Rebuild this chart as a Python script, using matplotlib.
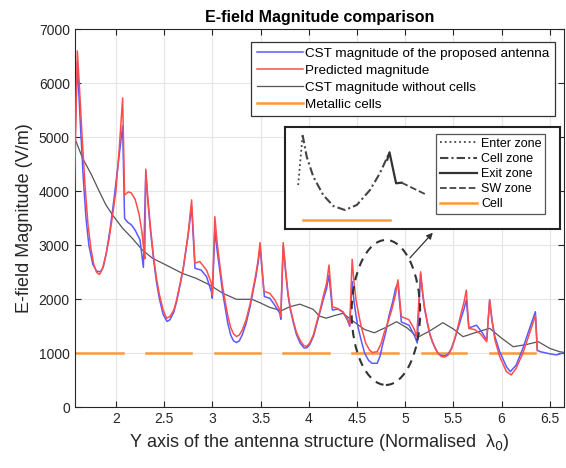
import matplotlib
matplotlib.use("Agg")
import matplotlib.pyplot as plt
from matplotlib.patches import Ellipse

plt.rcParams['font.family'] = ['Liberation Sans', 'DejaVu Sans']

# ---------------------------
# data
# ---------------------------
blue_x = [1.57, 1.60, 1.63, 1.66, 1.69, 1.72, 1.76, 1.80, 1.84, 1.87, 1.90, 1.94, 1.98, 2.02, 2.07,
          2.09, 2.12, 2.16, 2.20, 2.25, 2.285,
          2.31, 2.33, 2.36, 2.39, 2.42, 2.45, 2.49, 2.53, 2.56, 2.60, 2.63, 2.67, 2.70, 2.73, 2.75, 2.785,
          2.82, 2.885, 2.94, 2.99, 3.00,
          3.026, 3.05, 3.08, 3.105, 3.13, 3.16, 3.19, 3.22, 3.25, 3.28, 3.31, 3.35, 3.39, 3.42, 3.45, 3.475, 3.495,
          3.54, 3.596, 3.648, 3.70, 3.71,
          3.735, 3.76, 3.785, 3.81, 3.84, 3.87, 3.91, 3.95, 3.98, 4.01, 4.05, 4.08, 4.12, 4.15, 4.185, 4.21,
          4.245, 4.30, 4.355, 4.40, 4.425,
          4.45, 4.47, 4.49, 4.51, 4.545, 4.58, 4.62, 4.655, 4.71, 4.74, 4.76, 4.80, 4.83, 4.87, 4.90, 4.925,
          4.96, 5.04, 5.10, 5.125,
          5.16, 5.18, 5.20, 5.23, 5.254, 5.28, 5.306, 5.34, 5.375, 5.41, 5.444, 5.48, 5.51, 5.545, 5.58, 5.61, 5.634,
          5.66, 5.74, 5.80, 5.845,
          5.876, 5.90, 5.93, 5.98, 6.05, 6.09, 6.15, 6.22, 6.29, 6.35,
          6.37, 6.40, 6.50, 6.57, 6.64, 6.67]
blue_y = [4640, 6400, 5300, 4300, 3500, 3000, 2650, 2520, 2510, 2600, 2850, 3300, 3850, 4450, 5210,
          3500, 3430, 3380, 3280, 3100, 2590,
          4360, 3850, 3250, 2750, 2330, 2020, 1720, 1590, 1620, 1760, 1960, 2300, 2580, 2950, 3200, 3720,
          2575, 2540, 2420, 2140, 2020,
          3280, 2900, 2500, 2150, 1880, 1560, 1340, 1230, 1200, 1230, 1340, 1550, 1850, 2120, 2400, 2680, 2970,
          2050, 2020, 1890, 1740, 1630,
          2990, 2500, 2080, 1800, 1570, 1360, 1190, 1100, 1100, 1160, 1320, 1520, 1780, 1990, 2200, 2450,
          1800, 1820, 1760, 1620, 1500,
          2330, 1950, 1700, 1490, 1230, 1000, 870, 815, 815, 950, 1120, 1400, 1680, 1950, 2200, 2300,
          1580, 1520, 1310, 1190,
          2470, 2120, 1830, 1560, 1360, 1220, 1110, 1000, 960, 955, 985, 1090, 1240, 1440, 1650, 1820, 1990,
          1470, 1520, 1380, 1240,
          1990, 1620, 1310, 1030, 750, 660, 780, 1090, 1460, 1770,
          1060, 1030, 990, 970, 1010, 1000]

red_x = [1.57, 1.60, 1.62, 1.65, 1.68, 1.71, 1.74, 1.77, 1.80, 1.83, 1.86, 1.90, 1.93, 1.966, 2.00, 2.035, 2.07,
         2.09, 2.13, 2.16, 2.20, 2.24, 2.27, 2.29, 2.30,
         2.31, 2.33, 2.36, 2.39, 2.42, 2.45, 2.49, 2.525, 2.56, 2.60, 2.63, 2.67, 2.70, 2.73, 2.75, 2.785,
         2.82, 2.87, 2.94, 2.99, 3.00,
         3.026, 3.05, 3.08, 3.105, 3.13, 3.16, 3.19, 3.22, 3.25, 3.28, 3.31, 3.35, 3.39, 3.42, 3.45, 3.475, 3.495,
         3.535, 3.596, 3.648, 3.70, 3.71,
         3.735, 3.76, 3.785, 3.81, 3.84, 3.87, 3.91, 3.95, 3.98, 4.01, 4.05, 4.08, 4.12, 4.15, 4.185, 4.21,
         4.245, 4.30, 4.355, 4.40, 4.425,
         4.45, 4.47, 4.49, 4.52, 4.545, 4.59, 4.63, 4.66, 4.71, 4.75, 4.78, 4.82, 4.86, 4.90, 4.925,
         4.96, 5.04, 5.09, 5.12,
         5.16, 5.18, 5.20, 5.23, 5.254, 5.28, 5.306, 5.34, 5.375, 5.41, 5.444, 5.48, 5.51, 5.545, 5.58, 5.61, 5.634,
         5.66, 5.72, 5.78, 5.845,
         5.876, 5.90, 5.93, 5.98, 6.05, 6.10, 6.15, 6.22, 6.29, 6.35,
         6.37]
red_y = [3990, 6600, 6000, 5000, 4100, 3400, 2950, 2650, 2500, 2460, 2560, 2850, 3130, 3560, 4000, 4800, 5730,
         3930, 3990, 3970, 3850, 3580, 3250, 2900, 2750,
         4410, 3900, 3300, 2800, 2400, 2100, 1800, 1650, 1680, 1800, 1990, 2330, 2600, 2980, 3220, 3840,
         2670, 2700, 2540, 2300, 2080,
         3530, 3050, 2600, 2250, 1990, 1700, 1480, 1360, 1310, 1340, 1430, 1620, 1900, 2170, 2450, 2730, 3050,
         2150, 2110, 1990, 1800, 1680,
         3050, 2550, 2110, 1830, 1600, 1400, 1240, 1140, 1130, 1190, 1350, 1560, 1820, 2050, 2300, 2635,
         1860, 1830, 1770, 1650, 1520,
         2740, 2300, 1990, 1700, 1490, 1190, 1060, 1015, 1030, 1180, 1370, 1570, 1800, 2090, 2360,
         1680, 1620, 1460, 1310,
         2510, 2150, 1860, 1580, 1370, 1230, 1120, 1000, 940, 930, 965, 1080, 1250, 1480, 1740, 1950, 2170,
         1460, 1440, 1360, 1215,
         1990, 1600, 1250, 940, 660, 600, 720, 1000, 1370, 1700,
         1050]

gray_x = [1.57, 1.655, 1.74, 1.83, 1.896, 1.966, 2.07, 2.17, 2.276, 2.38, 2.52, 2.69, 2.83, 2.974, 3.11,
          3.25, 3.41, 3.49, 3.596, 3.717, 3.80, 3.907, 4.045, 4.11, 4.18, 4.27, 4.355, 4.49, 4.58, 4.68,
          4.80, 4.91, 5.02, 5.13, 5.26, 5.39, 5.50, 5.60, 5.74, 5.876, 6.00, 6.12, 6.25, 6.38, 6.50, 6.60, 6.67]
gray_y = [5000, 4610, 4330, 3990, 3750, 3560, 3315, 3130, 2910, 2760, 2635, 2480, 2390, 2265, 2110,
          2000, 2000, 1940, 1850, 1790, 1860, 1910, 1815, 1690, 1650, 1700, 1740, 1555, 1440, 1380,
          1480, 1585, 1470, 1296, 1420, 1567, 1450, 1308, 1390, 1463, 1280, 1122, 1160, 1215, 1090, 1030, 1010]

cell_start = [1.59, 2.31, 3.03, 3.73, 4.45, 5.17, 5.88]
cell_end = [2.07, 2.78, 3.49, 4.21, 4.93, 5.63, 6.35]
cell_level = 1000

# inset sketch (axes fraction units)
enter_x = [0.048, 0.064]
enter_y = [0.431, 0.922]
cellz_x = [0.064, 0.079, 0.103, 0.139, 0.176, 0.218, 0.261, 0.309, 0.345, 0.380]
cellz_y = [0.922, 0.709, 0.513, 0.333, 0.225, 0.186, 0.235, 0.382, 0.546, 0.752]
exit_x = [0.372, 0.380, 0.404, 0.424]
exit_y = [0.680, 0.752, 0.448, 0.454]
sw_x = [0.424, 0.509]
sw_y = [0.454, 0.343]
inset_cell_x = [0.064, 0.382]
inset_cell_y = [0.088, 0.088]

legend_labels = ['CST magnitude of the proposed antenna', 'Predicted magnitude',
                 'CST magnitude without cells', 'Metallic cells']
inset_labels = ['Enter zone', 'Cell zone', 'Exit zone', 'SW zone', 'Cell']

BLUE = '#5a5aff'
RED = '#ff4d4d'
GRAY = '#555555'
ORANGE = '#ff9933'
INK = '#262626'

fig = plt.figure(figsize=(5.66, 4.68), dpi=100)
ax = fig.add_axes([0.132, 0.1297, 0.865, 0.8077])

ax.plot(blue_x, blue_y, color=BLUE, lw=1.1, label=legend_labels[0], zorder=3)
ax.plot(red_x, red_y, color=RED, lw=1.1, label=legend_labels[1], zorder=4)
ax.plot(gray_x, gray_y, color=GRAY, lw=0.9, label=legend_labels[2], zorder=2)
for i, (s, e) in enumerate(zip(cell_start, cell_end)):
    ax.plot([s, e], [cell_level, cell_level], color=ORANGE, lw=1.8,
            label=legend_labels[3] if i == 0 else None, zorder=2)

ax.set_xlim(1.573, 6.65)
ax.set_ylim(0, 7000)
ax.set_xticks([2, 2.5, 3, 3.5, 4, 4.5, 5, 5.5, 6, 6.5])
ax.set_xticklabels(['2', '2.5', '3', '3.5', '4', '4.5', '5', '5.5', '6', '6.5'])
ax.set_yticks(range(0, 7001, 1000))
ax.grid(True, color='#e6e6e6', lw=0.8)
ax.set_axisbelow(True)
ax.tick_params(direction='in', length=4, width=0.8, colors=INK, labelsize=10, top=True, right=True,
               labeltop=False, labelright=False)
for sp in ax.spines.values():
    sp.set_color(INK)
    sp.set_linewidth(0.8)

ax.set_title('E-field Magnitude comparison', fontsize=11.5, fontweight='bold', pad=5)
ax.set_ylabel('E-field Magnitude (V/m)', fontsize=13, color=INK)
ax.set_xlabel('Y axis of the antenna structure (Normalised  λ$_0$)', fontsize=13, color=INK)

leg = ax.legend(loc='upper right', bbox_to_anchor=(0.981, 0.966), borderaxespad=0, fontsize=9.7,
                frameon=True, fancybox=False, framealpha=1, edgecolor='#333333',
                handlelength=3.4, handletextpad=0.2, labelspacing=0.33, borderpad=0.4)
leg.get_frame().set_linewidth(0.9)

# dashed ellipse around one cell + arrow to the zoom sketch
ax.add_patch(Ellipse((4.80, 1756), 0.71, 2685, fill=False, ls=(0, (4, 3)), lw=1.5, ec='#333333', zorder=5))
ax.annotate('', xy=(5.306, 3271), xytext=(5.03, 2728),
            arrowprops=dict(arrowstyle='-|>', color='#333333', lw=0.9, mutation_scale=9), zorder=5)

# inset sketch
ins = fig.add_axes([0.5035, 0.5107, 0.4859, 0.2179])
ins.set_xlim(0, 1)
ins.set_ylim(0, 1)
ins.set_xticks([])
ins.set_yticks([])
for sp in ins.spines.values():
    sp.set_color('#222222')
    sp.set_linewidth(1.5)
ins.plot(enter_x, enter_y, color='#444444', lw=1.3, ls=':', label=inset_labels[0])
ins.plot(cellz_x, cellz_y, color='#444444', lw=1.5, ls=(0, (4, 1.5, 1, 1.5)), label=inset_labels[1])
ins.plot(exit_x, exit_y, color='#333333', lw=1.6, ls='-', label=inset_labels[2])
ins.plot(sw_x, sw_y, color='#444444', lw=1.3, ls='--', label=inset_labels[3])
ins.plot(inset_cell_x, inset_cell_y, color=ORANGE, lw=1.8, label=inset_labels[4])
ileg = ins.legend(loc='upper left', bbox_to_anchor=(0.549, 0.931), borderaxespad=0, fontsize=9,
                  frameon=True, fancybox=False, framealpha=1, edgecolor='#555555',
                  handlelength=3.0, handletextpad=0.3, labelspacing=0.25, borderpad=0.3)
ileg.get_frame().set_linewidth(0.9)

fig.savefig('out.png', dpi=100)
